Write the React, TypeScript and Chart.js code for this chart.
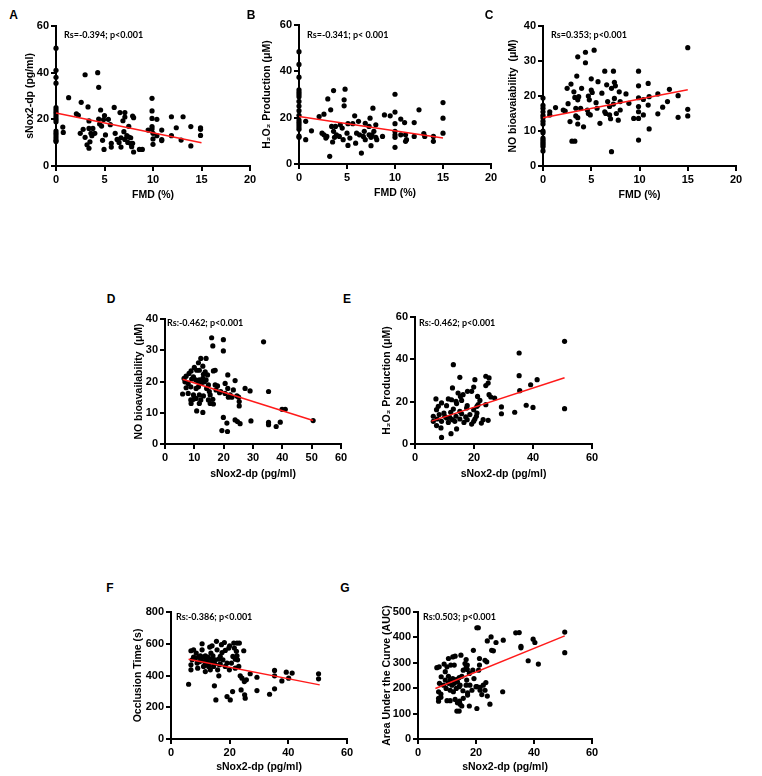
import React, { useEffect, useRef } from 'react';
import { Chart, registerables } from 'chart.js';
Chart.register(...registerables);

type Pt = [number, number];

// ---------- DATA ----------
const fmdTicks = [0, 5, 10, 15, 20];
const noxTicks = [0, 20, 40, 60];

// A: sNox2-dp vs FMD
const pointsA: Pt[] = [
  [0,50.5],[0,41],[0,38],[0,35.5],[0,25],[0,24],[0,23],[0,22],[0,21],[0,20],[0,19],[0,15],[0,14],[0,13],[0,12],[0,11],[0,10.5],
  [0.7,16.7],[0.75,14.4],[1.3,29.3],[2.1,22.4],[2.3,21.7],[2.6,27.3],[2.5,14],[2.8,15.7],[3.0,39.1],[3.3,25.3],[3.0,12.3],[3.2,9.1],
  [3.4,19.3],[3.4,16.1],[3.4,7.6],[3.5,10.4],[3.6,14],[3.7,13],[3.8,16.1],[4.0,14],[4.3,40],[4.4,33.7],[4.4,20.1],[4.5,18],[4.6,24],
  [4.7,17.1],[4.8,11],[4.9,19.9],[5.0,21.6],[5.1,13.3],[4.95,7.1],[5.4,20],[5.6,17.7],[5.7,9.7],[5.7,8.1],[6.0,25.1],[6.1,14],[6.3,11.4],
  [6.5,10.1],[6.6,22.9],[6.7,8.1],[6.7,12.1],[6.9,19.4],[7.0,14.7],[7.1,22.9],[7.1,21],[7.1,11.4],[7.3,13],[7.4,10.1],[7.5,17],[7.5,12.4],
  [7.7,12.1],[7.7,9.6],[7.8,8.3],[7.9,21.4],[7.9,9.7],[8.0,6],[8.0,20.7],[8.6,7.1],[8.9,7.1],[9.5,15.4],[9.9,29],[9.9,23.6],[9.9,20.4],
  [9.9,16.9],[9.9,15.9],[10,14],[10,11.6],[10,9.3],[10.4,20],[10.4,13],[10.9,15.4],[10.9,11.3],[10.9,10.9],[11.9,21.1],[11.9,13],
  [12.4,16.4],[12.9,11.1],[13.1,21.1],[13.9,16.9],[13.9,8.6],[14.9,16.4],[14.9,15.7],[14.9,13.1],
];
const fitA: Pt[] = [[0, 22.7], [15, 10]];

// B: H2O2 vs FMD
const pointsB: Pt[] = [
  [0,48.5],[0,43],[0,37.5],[0,32],[0,31],[0,30],[0,29],[0,27],[0,25],[0,23],[0,21],[0,19],[0,18],[0,17],[0,16],[0,15],[0,12],[0,11.5],
  [0.7,18.4],[0.7,10.5],[1.3,14.3],[2.1,20.5],[2.4,13.3],[2.6,21.5],[2.6,12.6],[2.8,11.2],[2.9,11.9],[3.0,28.1],[3.3,23.4],[3.2,3.3],
  [3.4,16.2],[3.5,9.5],[3.6,31.7],[3.6,14.1],[3.7,11.5],[3.8,16.2],[3.9,12.6],[4.2,11.9],[4.3,16.9],[4.5,15.5],[4.7,27.7],[4.7,25.1],
  [4.8,32.3],[4.6,10.5],[5.0,13.3],[5.1,17.4],[5.1,8],[5.3,11.2],[5.6,17.4],[5.8,20.8],[6.0,13.3],[5.9,9],[6.2,18.4],[6.3,12.6],[6.5,4.7],
  [6.7,11.9],[6.8,14.1],[6.9,10.5],[6.9,17.6],[7.3,16.2],[7.3,12.6],[7.4,19.8],[7.5,11.5],[7.5,7.9],[7.6,12.6],[7.7,24.1],[7.8,14.1],
  [8.0,11.5],[8.0,16.9],[8.1,10.5],[8.7,11.9],[8.9,21.2],[9.5,20.8],[10,30.1],[10,22.4],[10,17.4],[10,14.1],[10,12.6],[10,11.5],[10,7.2],
  [10.6,19.4],[10.6,12.6],[11,17.9],[11.1,12.6],[11.1,9.8],[11.2,10.5],[12,17.9],[12,11.9],[12.5,23.4],[13,13.1],[13.1,11.9],[14,11.9],
  [14,9.8],[15,26.5],[15,19.8],[15,13.3],
];
const fitB: Pt[] = [[0, 20.5], [15, 11.2]];

// C: NO vs FMD
const pointsC: Pt[] = [
  [0,19.4],[0,17.3],[0,16.5],[0,15.5],[0,14.5],[0,13.8],[0,12.8],[0,12],[0,10],[0,9.5],[0,8],[0,7.5],[0,7],[0,6.5],[0,6],[0,5.5],[0,4.3],
  [0.7,15.5],[0.7,14.6],[1.3,16.7],[2.1,16],[2.3,15.7],[2.5,22.2],[2.6,17.8],[2.8,12.7],[2.9,23.4],[3.0,7.1],[3.3,7.1],[3.2,21.2],
  [3.3,19.6],[3.4,16.5],[3.4,14.3],[3.5,25.7],[3.6,31.2],[3.6,12],[3.6,13.8],[3.6,18.9],[3.7,19.8],[4.0,22.2],[3.9,16.5],[4.2,11.2],
  [4.4,32.5],[4.4,29.5],[4.6,16],[4.7,20],[4.7,15],[4.8,18.9],[4.9,14.6],[5.0,21.7],[5.0,24.9],[5.1,21],[5.3,33.1],[5.5,18.1],[5.6,16.5],
  [5.7,24.1],[5.9,12.2],[6.1,20.8],[6.4,27.1],[6.4,15.5],[6.5,15],[6.6,23.2],[6.7,18.4],[6.9,17],[6.9,14.6],[7.0,13.5],[7.1,22.2],[7.1,4.1],
  [7.3,27.1],[7.3,17.7],[7.4,19.3],[7.4,23.9],[7.5,22.9],[7.6,15],[7.8,13.1],[7.9,21.2],[8.0,18.4],[8.0,16],[8.6,20.6],[8.9,17.9],
  [9.4,13.6],[9.9,27.1],[9.9,22.9],[9.9,19.5],[9.9,17],[9.9,15.5],[9.9,13.6],[9.9,7.4],[10.4,19],[10.4,14.6],[10.9,23.6],[10.9,17.4],
  [11,10.6],[11,19.8],[11.9,20.6],[11.9,14.9],[12.4,16.8],[12.9,18.4],[13.1,21.9],[14,20.1],[14,13.9],[15,33.8],[15,16.2],[15,14.3],
];
const fitC: Pt[] = [[0, 13.8], [15, 21.8]];

// D: NO vs sNox2-dp
const pointsD: Pt[] = [
  [15.9,34],[16.3,31.4],[19.9,33.4],[19.9,29.8],[33.6,32.7],[12.2,27.4],[14,27.4],[11.4,26],[12.9,24.9],[10,24.5],[10.8,23.6],[11.7,23.6],
  [8.9,23.4],[13.7,23.1],[16.5,23.4],[17.1,23.6],[8.2,22.6],[9.7,21.5],[7.2,21.7],[13.1,22.3],[14.5,22.1],[21.4,22.1],[6.5,21],[9.1,20.8],
  [10.5,20.5],[11.7,20.5],[12.9,21],[14,20.5],[6.8,19.9],[7.9,19.4],[23.9,20.3],[11.2,19.9],[12.5,19.6],[13.4,19.9],[14.8,18.9],[17.1,18.9],
  [17.9,18.6],[20.5,19.4],[7.2,18],[8.8,18.3],[10.6,17.8],[11.4,18.3],[14.2,17.8],[15.1,16.8],[17.4,17.3],[19,16.8],[21.4,17.8],[23.3,17.3],
  [27.3,17.8],[29,17],[35.3,16.8],[6,16],[7.9,16.2],[9.7,15.7],[11.7,15.7],[10.6,14.6],[13.1,15.4],[15.4,15.7],[18.6,16.4],[20.5,16.2],
  [22.2,15.7],[24.5,15.4],[8.8,14.1],[9.7,14.3],[12.2,14.1],[14.8,14.1],[16.3,14.3],[21.6,15],[22.8,15],[25.1,15],[8.9,13],[11.7,13],
  [15.4,13],[16.5,12.8],[25.3,13.6],[10.8,10.6],[12.9,10.1],[25.3,12.2],[39.9,11.1],[41,11.1],[19.9,8.5],[21.1,6.7],[23.9,7.7],[24.7,7.2],
  [25.6,6.5],[29.3,7.4],[35.3,6.9],[35.3,6.2],[37.9,5.6],[39.3,7],[50.5,7.5],[19.4,4.3],[21.3,4],
];
const fitD: Pt[] = [[6, 20.7], [50.5, 7.5]];

// E: H2O2 vs sNox2-dp
const pointsE: Pt[] = [
  [50.7,48.5],[35.3,43],[13,37.5],[35.3,32.3],[15.2,31.5],[24,32],[25.1,31.2],[20.3,30.4],[41.4,30.4],[39.2,28],[24.8,28.8],[24,27.6],
  [19.9,26.9],[12.7,26.5],[35.5,25.2],[17.8,24.9],[19.2,24.9],[14.6,24.1],[16.3,23.3],[15.4,22.5],[25.1,23.3],[21.2,22.5],[25.7,22.2],
  [27,21.7],[7.1,21.3],[11.3,21.3],[12.4,20.9],[13.9,20.2],[15.8,20.6],[22,20.6],[9,19.4],[14.1,19.1],[17.7,18.1],[21.4,18.6],[24,18.6],
  [37.7,18.3],[7.9,17.8],[10.7,18.1],[17.5,17],[21,17.8],[29.3,17.5],[40,17.3],[50.7,16.7],[7.3,16.2],[13,16.5],[15.2,15.4],[19.9,16.2],
  [9.8,14.6],[12.1,15],[15.8,14.3],[18.6,13.9],[21,14.6],[29.3,14.3],[33.8,15],[6.2,13.1],[8.2,13.9],[10.1,13.1],[11.8,12.6],[13.9,13.1],
  [17.2,12.8],[20.8,13.1],[7.5,11.8],[10.7,12.3],[12.7,11.5],[15.2,11.8],[17.7,11.5],[20.3,11.8],[23.1,11.5],[24.8,11.2],[6.2,10.7],
  [9,10.7],[11.3,10.2],[13.5,10.7],[16.6,10.2],[19.9,10.7],[22.5,9.9],[7.3,8.7],[8.8,7.6],[14.1,7.1],[19.2,9.4],[12.2,4.9],[9,3.1],
];
const fitE: Pt[] = [[5.6, 10.8], [50.7, 31.3]];

// F: Occlusion time vs sNox2-dp
const pointsF: Pt[] = [
  [6,345],[6.8,436],[6.8,467],[7.2,499],[6.8,556],[7.7,562],[8.3,509],[8.9,478],[9.1,446],[9.8,488],[10,524],[10.6,562],[10.6,600],
  [11.1,457],[11.7,425],[12,499],[12.3,474],[12.6,516],[13.2,579],[13.4,436],[13.6,541],[14,587],[14.2,488],[14.5,457],[14.8,335],
  [15.1,499],[15.3,246],[15.5,615],[15.7,562],[15.9,436],[16.3,398],[16.5,467],[16.8,520],[17.2,594],[17.4,545],[17.7,499],[18.2,608],
  [18.5,457],[19.1,478],[19.1,267],[19.7,573],[19.9,436],[20.2,246],[20.6,478],[21,299],[21.1,520],[21.4,604],[21.6,573],[21.9,446],
  [22.3,552],[22.5,604],[22.7,499],[23.1,457],[23.3,604],[23.6,398],[23.9,309],[24.2,383],[24.8,556],[25,362],[25.1,278],[25.3,257],
  [25.7,373],[27,411],[29.3,389],[29.3,305],[33.6,282],[35.3,432],[35.3,398],[35.3,316],[37.8,366],[39.3,421],[40.1,383],[41.3,415],
  [50.3,411],[50.3,379],[7.7,516],[8.6,541],[9.4,516],[10.2,499],[10.9,516],[11.4,488],[11.7,524],[12.3,499],[12.8,457],[13.1,478],
  [13.8,503],[14.3,524],[14.9,474],[16.3,503],[16.8,472],[18.5,558],[20,587],[21.9,503],[22.5,524],
];
const fitF: Pt[] = [[6, 503], [50.7, 341]];

// G: AUC vs sNox2-dp
const pointsG: Pt[] = [
  [34.9,419],[50.6,421],[20.3,438],[20.8,438],[33.7,418],[39.7,393],[25.2,402],[29.4,389],[40.3,380],[23.9,386],[26.9,380],[25.4,349],
  [26,347],[19.1,349],[35.5,365],[35.5,359],[50.6,340],[38,308],[41.5,295],[21.2,317],[23.1,310],[23.7,304],[21.2,291],[14.8,330],
  [12.8,326],[16.6,313],[16.2,297],[17,291],[16.6,281],[15.6,271],[17.7,258],[18.9,271],[20.9,271],[6.5,281],[7.3,284],[9,295],[10,284],
  [11.3,291],[12.5,291],[8,245],[9.4,232],[10.5,247],[11.1,232],[12,238],[13.2,234],[14.2,242],[15.1,247],[16.8,232],[19.3,238],[7.4,219],
  [8.8,212],[10.5,219],[11.7,212],[12.5,219],[13.6,225],[14.5,212],[16.6,212],[17.9,212],[20.3,206],[21.4,203],[22.5,212],[23.4,222],
  [7.1,186],[7.9,177],[9.7,199],[11.1,192],[12.2,186],[13.2,199],[14.2,206],[15.5,190],[17.1,182],[18.6,192],[20,206],[21.4,192],[22,175],
  [23.1,192],[29.2,186],[7.1,160],[7.9,164],[12.8,156],[15.6,160],[17.1,173],[23.9,169],[7.1,149],[10,151],[11.1,151],[13.6,143],
  [14.5,137],[14.3,149],[17.7,130],[20.3,120],[24.8,137],[13.4,110],[14.2,110],[15.1,130],[10.5,317],[12,323],[9.4,265],[17,274],
];
const fitG: Pt[] = [[6, 199], [50.6, 406]];

// ---------- LAYOUT ----------
interface PanelCfg {
  letter: string; lx: number; ly: number;
  points: Pt[]; fit: Pt[];
  xMax: number; xStep: number; yMax: number; yStep: number;
  xTitle: string; yTitle: string; note: string;
  axisX: number; axisR: number; yTop: number; yBot: number;
  yTitleOff: number; xTitleOff: number; noteDx: number; noteDy: number;
}

const SNOX = 'sNox2-dp (pg/ml)';
const H2O2 = 'H\u2082O\u2082 Production (\u03bcM)';

const panels: PanelCfg[] = [
  { letter: 'A', lx: 13.5, ly: 15, points: pointsA, fit: fitA, xMax: 20, xStep: 5, yMax: 60, yStep: 20,
    xTitle: 'FMD (%)', yTitle: SNOX, note: 'Rs=-0.394; p<0.001',
    axisX: 56, axisR: 250, yTop: 26, yBot: 166, yTitleOff: 26, xTitleOff: 29, noteDx: 8, noteDy: 9 },
  { letter: 'B', lx: 251, ly: 15, points: pointsB, fit: fitB, xMax: 20, xStep: 5, yMax: 60, yStep: 20,
    xTitle: 'FMD (%)', yTitle: H2O2, note: 'Rs=-0.341; p< 0.001',
    axisX: 299, axisR: 491, yTop: 25, yBot: 164, yTitleOff: 32, xTitleOff: 29, noteDx: 8, noteDy: 10 },
  { letter: 'C', lx: 489, ly: 15, points: pointsC, fit: fitC, xMax: 20, xStep: 5, yMax: 40, yStep: 10,
    xTitle: 'FMD (%)', yTitle: 'NO bioavaiability  (\u03bcM)', note: 'Rs=0.353; p<0.001',
    axisX: 543, axisR: 736, yTop: 26, yBot: 166, yTitleOff: 30, xTitleOff: 29, noteDx: 8, noteDy: 9 },
  { letter: 'D', lx: 111, ly: 299, points: pointsD, fit: fitD, xMax: 60, xStep: 10, yMax: 40, yStep: 10,
    xTitle: SNOX, yTitle: 'NO bioavailability  (\u03bcM)', note: 'Rs:-0.462; p<0.001',
    axisX: 165, axisR: 341, yTop: 319, yBot: 444, yTitleOff: 26, xTitleOff: 30, noteDx: 2, noteDy: 4 },
  { letter: 'E', lx: 347, ly: 299, points: pointsE, fit: fitE, xMax: 60, xStep: 20, yMax: 60, yStep: 20,
    xTitle: SNOX, yTitle: H2O2, note: 'Rs:-0.462; p<0.001',
    axisX: 415, axisR: 592, yTop: 317, yBot: 444, yTitleOff: 28, xTitleOff: 30, noteDx: 4, noteDy: 6 },
  { letter: 'F', lx: 110, ly: 588, points: pointsF, fit: fitF, xMax: 60, xStep: 20, yMax: 800, yStep: 200,
    xTitle: SNOX, yTitle: 'Occlusion Time (s)', note: 'Rs:-0.386; p<0.001',
    axisX: 171, axisR: 347, yTop: 612, yBot: 739, yTitleOff: 33, xTitleOff: 28, noteDx: 5, noteDy: 5 },
  { letter: 'G', lx: 345, ly: 588, points: pointsG, fit: fitG, xMax: 60, xStep: 20, yMax: 500, yStep: 100,
    xTitle: SNOX, yTitle: 'Area Under the Curve (AUC)', note: 'Rs:0.503; p<0.001',
    axisX: 418, axisR: 592, yTop: 612, yBot: 739, yTitleOff: 31, xTitleOff: 28, noteDx: 5, noteDy: 5 },
];

const FONT = "'Liberation Sans', Arial, sans-serif";

const notePlugin = {
  id: 'note',
  afterDraw(chart: any, _args: any, opts: any) {
    const { ctx, chartArea } = chart;
    ctx.save();
    ctx.font = "bold 9px Lato, 'Liberation Sans', sans-serif";
    ctx.fillStyle = '#000';
    ctx.textBaseline = 'middle';
    ctx.textAlign = 'left';
    ctx.fillText(opts.text, chartArea.left + opts.dx, chartArea.top + opts.dy);
    ctx.restore();
  },
};

function Panel({ cfg }: { cfg: PanelCfg }) {
  const ref = useRef<HTMLCanvasElement>(null);
  const padTop = 10;
  const yW = Math.round(cfg.yTitleOff + 6.3);
  const xH = Math.round(cfg.xTitleOff + 6.3);
  const plotW = cfg.axisR - cfg.axisX;
  const plotH = cfg.yBot - cfg.yTop;
  const padRight = 14;
  const width = yW + plotW + padRight;
  const height = padTop + plotH + xH;
  const left = cfg.axisX - yW;
  const top = cfg.yTop - padTop;

  useEffect(() => {
    if (!ref.current) return;
    const tickFont = { family: FONT, size: 11, weight: 'bold' as const };
    const titleFont = { family: FONT, size: 10.5, weight: 'bold' as const, lineHeight: 1.2 };
    const grid = { display: true, drawOnChartArea: false, drawTicks: true, tickLength: 5, color: '#000', lineWidth: 2 };
    const border = { display: true, color: '#000', width: 2 };
    const chart = new Chart(ref.current, {
      type: 'scatter',
      data: {
        datasets: [
          {
            data: cfg.fit.map(([x, y]) => ({ x, y })),
            showLine: true, borderColor: '#ff1a1a', borderWidth: 1.5, pointRadius: 0, clip: false,
          } as any,
          {
            data: cfg.points.map(([x, y]) => ({ x, y })),
            backgroundColor: '#000', borderColor: '#000', borderWidth: 0, pointRadius: 2.6, clip: false,
          } as any,
        ],
      },
      options: {
        responsive: false, animation: false, devicePixelRatio: 1, events: [],
        layout: { padding: { top: padTop, right: padRight, left: 0, bottom: 0 } },
        plugins: { legend: { display: false }, tooltip: { enabled: false },
          note: { text: cfg.note, dx: cfg.noteDx, dy: cfg.noteDy } } as any,
        scales: {
          x: {
            type: 'linear', min: 0, max: cfg.xMax,
            ticks: { stepSize: cfg.xStep, font: tickFont, color: '#000', padding: 2, maxRotation: 0, autoSkip: false },
            grid, border,
            title: { display: true, text: cfg.xTitle, font: titleFont, color: '#000', padding: 0 },
            afterFit: (s: any) => { s.height = xH; },
          },
          y: {
            type: 'linear', min: 0, max: cfg.yMax,
            ticks: { stepSize: cfg.yStep, font: tickFont, color: '#000', padding: 2, autoSkip: false },
            grid, border,
            title: { display: true, text: cfg.yTitle, font: titleFont, color: '#000', padding: 0 },
            afterFit: (s: any) => { s.width = yW; },
          },
        },
      } as any,
      plugins: [notePlugin],
    });
    return () => chart.destroy();
  }, [cfg]);

  return (
    <>
      <canvas ref={ref} width={width} height={height}
        style={{ position: 'absolute', left, top, width, height }} />
      <div style={{ position: 'absolute', left: cfg.lx, top: cfg.ly, transform: 'translate(-50%, -50%)',
        font: `bold 12px ${FONT}`, lineHeight: 1, color: '#000' }}>{cfg.letter}</div>
    </>
  );
}

export default function App() {
  return (
    <div style={{ position: 'absolute', left: 0, top: 0, width: 762, height: 776, background: '#fff', overflow: 'hidden' }}>
      {panels.map((p) => <Panel key={p.letter} cfg={p} />)}
    </div>
  );
}
